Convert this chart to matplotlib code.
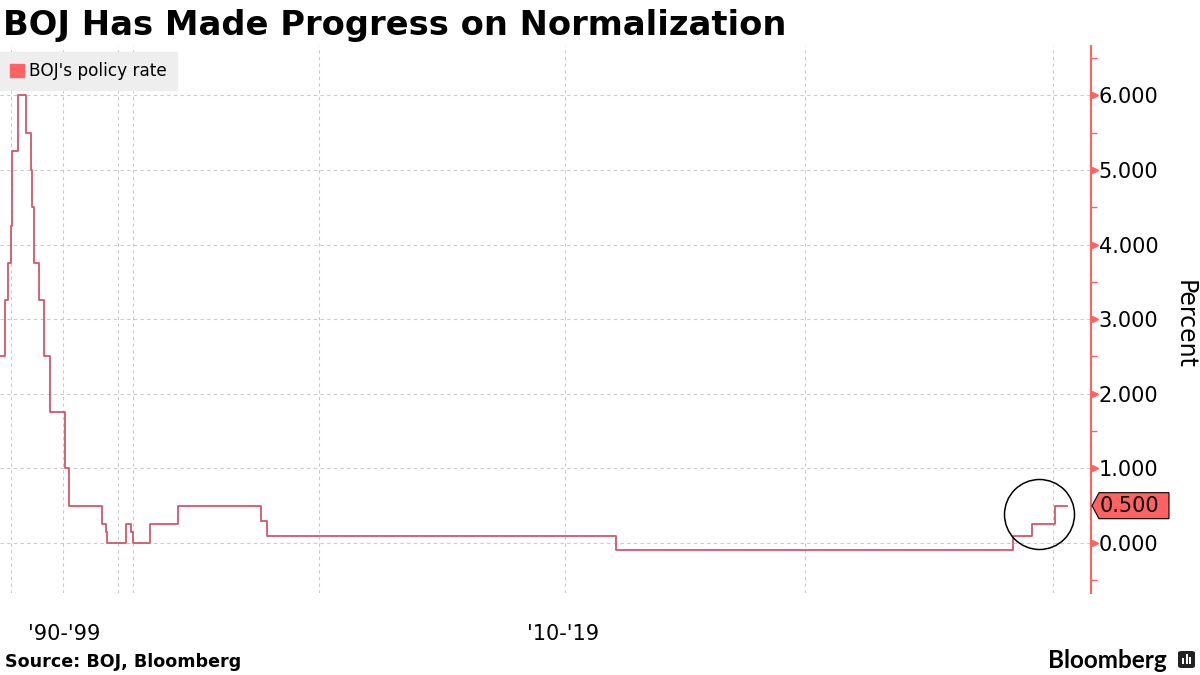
import matplotlib
matplotlib.use("Agg")
import matplotlib.pyplot as plt
import matplotlib.transforms as mtrans
from matplotlib.patches import Patch, Polygon, FancyBboxPatch, Rectangle
from matplotlib.ticker import FixedLocator

# ---------------- data ----------------
# Position of each rate change along Bloomberg's compressed time axis
# (axis runs 0 .. 1091 units), and the policy rate (%) from that point on.
step_pos = [0, 5, 8.3, 10.7, 12.3, 18.3, 26, 30.7, 32.3, 34.3, 39, 43.7,
            50.3, 65, 69.3, 101.5, 106, 107.3, 125.7, 131, 132.7, 150,
            178.3, 260.7, 266.7, 616, 1013.3, 1031.7, 1054.7]
series_end = 1067.3
policy_rate = [2.5, 3.25, 3.75, 4.25, 5.25, 6.0, 5.5, 5.0, 4.5, 3.75, 3.25, 2.5,
               1.75, 1.0, 0.5, 0.25, 0.15, 0.0, 0.25, 0.15, 0.0, 0.25,
               0.5, 0.3, 0.1, -0.1, 0.1, 0.25, 0.5]
series_name = "BOJ's policy rate"

x_range = (0, 1091)
y_range = (-0.67, 6.66)
x_grid = [11, 63, 118, 133, 319, 565, 805, 1053]
x_labels = ["'90-'99", "'10-'19"]
x_label_pos = [64.5, 563]
y_ticks = [0, 1, 2, 3, 4, 5, 6]
y_minor = [-0.5, 0.5, 1.5, 2.5, 3.5, 4.5, 5.5, 6.5]
latest_value = policy_rate[-1]
highlight = (1039, 0.385)   # centre of the circled recent hikes

title = "BOJ Has Made Progress on Normalization"
source = "Source: BOJ, Bloomberg"
y_title = "Percent"

# ---------------- styling ----------------
LINE = "#d0586a"
RED = "#ff6262"
GRID = "#c9c9c9"

W, H, DPI = 1200, 675, 100
fig = plt.figure(figsize=(W / DPI, H / DPI), dpi=DPI)
fig.patch.set_facecolor("white")

ax_left, ax_right, ax_top, ax_bottom = 0, 1091, 46, 593
ax = fig.add_axes([ax_left / W, 1 - ax_bottom / H,
                   (ax_right - ax_left) / W, (ax_bottom - ax_top) / H])
ax.set_xlim(*x_range)
ax.set_ylim(*y_range)

# series
ax.step(step_pos + [series_end], policy_rate + [latest_value], where="post",
        color=LINE, lw=1.3, zorder=3)

# circle around recent hikes
ax.plot([highlight[0]], [highlight[1]], marker="o", ms=70 * 72 / DPI,
        mfc="none", mec="black", mew=1.1, zorder=4)

# spines
for s in ("left", "top", "bottom"):
    ax.spines[s].set_visible(False)
ax.spines["right"].set_color(RED)
ax.spines["right"].set_linewidth(1.5)

# x axis
ax.xaxis.set_major_locator(FixedLocator(x_label_pos))
ax.set_xticklabels(x_labels)
ax.xaxis.set_minor_locator(FixedLocator(x_grid))
ax.tick_params(axis="x", which="both", length=0, labelsize=15, pad=22,
               labelcolor="black")
ax.grid(axis="x", which="minor", color=GRID, ls=(0, (3, 3)), lw=0.8, zorder=1)

# y axis on the right
ax.yaxis.tick_right()
ax.set_yticks(y_ticks)
ax.set_yticklabels([f"{v:.3f}" for v in y_ticks])
ax.yaxis.set_minor_locator(FixedLocator(y_minor))
ax.tick_params(axis="y", which="major", length=0, pad=5.5, labelsize=15)
ax.tick_params(axis="y", which="minor", length=4, width=1, color=RED,
               direction="out")
ax.grid(axis="y", which="major", color=GRID, ls=(0, (3, 3)), lw=0.8, zorder=1)
fig.text(1185 / W, 1 - 325 / H, y_title, rotation=270, fontsize=17,
         va="center", ha="center")

# little triangles at the major ticks
tri_trans = mtrans.offset_copy(
    mtrans.blended_transform_factory(ax.transAxes, ax.transData),
    fig=fig, x=3.5, y=0, units="dots")
ax.plot([1] * len(y_ticks), y_ticks, ls="none", marker=">", ms=5,
        color=RED, transform=tri_trans, clip_on=False, zorder=5)

# legend
leg = ax.legend(handles=[Patch(color=RED, label=series_name)],
                loc="upper left", bbox_to_anchor=(0, 1 - 52 / H),
                bbox_transform=fig.transFigure, fontsize=12.2,
                handlelength=0.8, handleheight=0.8, handletextpad=0.3,
                borderpad=0.6, borderaxespad=0, frameon=True, fancybox=False,
                facecolor="#eeeeee", edgecolor="#eeeeee", framealpha=1)
leg.set_zorder(6)

# value tag for the latest reading
fig.canvas.draw()
xa = ax.transAxes.transform((1, 0))[0]
ya = ax.transData.transform((0, latest_value))[1]
tag = Polygon([(xa + 1, ya), (xa + 8, ya + 13), (xa + 78, ya + 13),
               (xa + 78, ya - 13), (xa + 8, ya - 13)], closed=True,
              facecolor=RED, edgecolor="black", lw=0.8,
              transform=mtrans.IdentityTransform(), zorder=7)
fig.add_artist(tag)
fig.text(xa + 9, ya, f"{latest_value:.3f}", transform=mtrans.IdentityTransform(),
         fontsize=15, va="center", ha="left", color="black", zorder=8)

# title and footer
fig.text(3 / W, 1 - 25 / H, title, fontsize=24.3, fontweight="bold",
         va="center", ha="left")
fig.text(5 / W, 1 - 662 / H, source, fontsize=12.6, fontweight="bold",
         va="center", ha="left")
fig.text(1167 / W, 1 - 660 / H, "Bloomberg", fontsize=17.5, fontweight="bold",
         family=["Lato", "DejaVu Sans"], va="center", ha="right")

# Bloomberg terminal icon
icon = FancyBboxPatch((1178 / W, 1 - 668 / H), 17 / W, 17 / H,
                      boxstyle="round,pad=0,rounding_size=0.003",
                      facecolor="#222222", edgecolor="none",
                      transform=fig.transFigure)
fig.add_artist(icon)
for bx, bh in ((1182, 6), (1185.5, 10), (1189, 7)):
    fig.add_artist(Rectangle((bx / W, 1 - 664 / H), 2.2 / W, bh / H,
                             facecolor="white", edgecolor="none",
                             transform=fig.transFigure))

fig.savefig("out.png", dpi=DPI)
